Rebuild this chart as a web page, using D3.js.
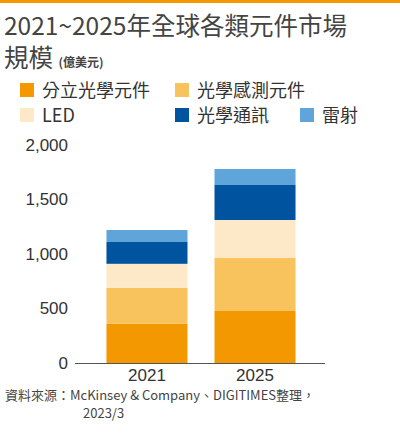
<!DOCTYPE html>
<html><head><meta charset="utf-8">
<script src="https://cdn.jsdelivr.net/npm/d3@7"></script>
<style>body{margin:0;background:#fff}</style>
</head><body>
<svg width="400" height="435"></svg>
<script>
const years = ["2021", "2025"];
const series = ["分立光學元件", "光學感測元件", "LED", "光學通訊", "雷射"];
const colors = ["#f39800", "#f8c25c", "#fde9c8", "#00539f", "#5fa5da"];
const values = {
    "2021": [360, 330, 220, 200, 110],
    "2025": [477, 486, 349, 321, 147]
};
const ticks = [0, 500, 1000, 1500, 2000];

let svg = d3.select("svg");
const font = "'Noto Sans CJK TC', 'Liberation Sans', sans-serif";
const numFont = "'Liberation Sans', Arial, sans-serif";
svg.append("rect").attr("width", 400).attr("height", 3).attr("fill", "#f39800");

svg.append("text").attr("x", 4).attr("y", 35).attr("font-family", font)
    .attr("font-size", 24.5).attr("fill", "#444").attr("font-weight", 400)
    .text("2021~2025年全球各類元件市場");
const t2 = svg.append("text").attr("x", 4).attr("y", 67).attr("font-family", font)
    .attr("fill", "#444").attr("font-weight", 400);
t2.append("tspan").attr("font-size", 24.5).text("規模 ");
t2.append("tspan").attr("font-size", 12).attr("font-weight", 700).text("(億美元)");

const legPos = [[20, 97], [175, 97], [20, 122], [175, 122], [300, 122]];
const leg = svg.append("g").attr("font-family", font).attr("font-size", 18).attr("fill", "#333");
series.forEach((s, i) => {
    leg.append("rect").attr("x", legPos[i][0]).attr("y", legPos[i][1] - 14)
        .attr("width", 14).attr("height", 14).attr("fill", colors[i]);
    leg.append("text").attr("x", legPos[i][0] + 22).attr("y", legPos[i][1]).text(s);
});

const x = d3.scaleBand().domain(years).range([80, 322]).paddingInner(0.25).paddingOuter(0.245);
const y = d3.scaleLinear().domain([0, 2000]).range([363, 145]);

const ax = svg.append("g").attr("transform", "translate(70,0)")
    .call(d3.axisLeft(y).tickValues(ticks).tickFormat(d3.format(",")).tickSize(0).tickPadding(2));
ax.select(".domain").remove();
ax.selectAll("text").attr("font-family", numFont).attr("font-size", 17).attr("fill", "#333");

const stackData = years.map(yr => {
    const o = {year: yr};
    series.forEach((s, i) => o[s] = values[yr][i]);
    return o;
});
const stacked = d3.stack().keys(series)(stackData);
svg.append("g").selectAll("g").data(stacked).join("g")
    .attr("fill", (d, i) => colors[i])
    .selectAll("rect").data(d => d).join("rect")
    .attr("x", d => x(d.data.year)).attr("width", x.bandwidth())
    .attr("y", d => y(d[1])).attr("height", d => y(d[0]) - y(d[1]));

svg.append("line").attr("x1", 75).attr("x2", 325).attr("y1", 363.5).attr("y2", 363.5)
    .attr("stroke", "#555").attr("stroke-width", 1);

const xa = svg.append("g").attr("transform", "translate(0,363)")
    .call(d3.axisBottom(x).tickSize(0).tickPadding(6));
xa.select(".domain").remove();
xa.selectAll("text").attr("font-family", numFont).attr("font-size", 17).attr("fill", "#333");

const src = svg.append("g").attr("font-family", font).attr("font-size", 13).attr("fill", "#444");
src.append("text").attr("x", 5).attr("y", 400).text("資料來源：McKinsey & Company、DIGITIMES整理，");
src.append("text").attr("x", 83).attr("y", 418).text("2023/3");
</script>
</body></html>
